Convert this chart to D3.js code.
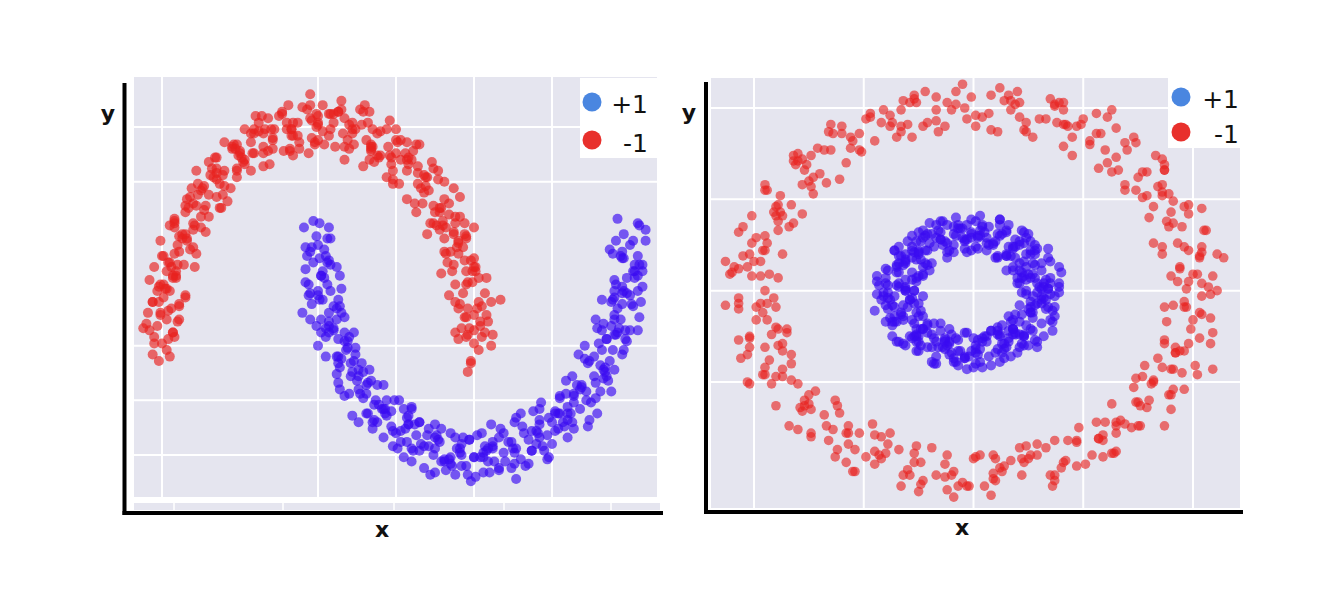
<!DOCTYPE html>
<html>
<head>
<meta charset="utf-8">
<script src="https://cdn.jsdelivr.net/npm/d3@7"></script>
<style>
  body { margin: 0; background: #fff; }
  svg { display: block; font-family: "DejaVu Sans", sans-serif; }
</style>
</head>
<body>
<div id="chart"></div>
<script>
// class -1, upper moon
var moonsRed = [
  [1.03,-.02],[.95,.04],[1.07,.06],[.98,-.07],[1.00,.01],[1.05,.04],[.92,.08],[1.02,.17],[.96,.05],[1.09,.11],
  [.97,.08],[1.03,.20],[.93,.24],[1.00,.14],[.96,.17],[1.03,.31],[.88,.20],[1.00,.36],[.95,.28],[1.05,.18],
  [.94,.39],[.87,.37],[.99,.34],[.90,.42],[.96,.29],[.90,.48],[.98,.39],[.86,.34],[.95,.49],[.81,.43],
  [.90,.47],[.82,.54],[.94,.56],[.85,.43],[.87,.51],[.87,.52],[.74,.56],[.84,.65],[.78,.53],[.91,.59],
  [.76,.55],[.81,.67],[.71,.71],[.78,.61],[.74,.64],[.77,.76],[.62,.65],[.74,.81],[.69,.73],[.79,.63],
  [.64,.82],[.57,.80],[.69,.77],[.60,.85],[.66,.72],[.56,.88],[.64,.79],[.52,.74],[.61,.89],[.47,.83],
  [.53,.85],[.45,.91],[.57,.93],[.48,.80],[.50,.88],[.47,.86],[.34,.90],[.44,.99],[.38,.87],[.51,.93],
  [.33,.85],[.38,.97],[.28,1.01],[.35,.91],[.31,.94],[.32,1.02],[.17,.91],[.29,1.07],[.24,.99],[.34,.89],
  [.17,1.04],[.10,1.02],[.22,.99],[.13,1.07],[.19,.94],[.08,1.06],[.16,.97],[.04,.92],[.13,1.07],[-.01,1.00],
  [.03,.98],[-.05,1.04],[.07,1.06],[-.02,.93],[.00,1.01],[-.04,.95],[-.17,.99],[-.07,1.08],[-.13,.96],[.00,1.02],
  [-.18,.90],[-.13,1.02],[-.23,1.06],[-.16,.96],[-.20,.99],[-.20,1.02],[-.35,.91],[-.23,1.07],[-.28,.99],[-.18,.89],
  [-.34,.99],[-.41,.97],[-.29,.94],[-.38,1.02],[-.32,.89],[-.43,.97],[-.35,.88],[-.47,.83],[-.38,.98],[-.52,.92],
  [-.47,.85],[-.55,.91],[-.43,.93],[-.52,.80],[-.50,.88],[-.52,.77],[-.65,.81],[-.55,.90],[-.61,.78],[-.48,.84],
  [-.65,.68],[-.60,.80],[-.70,.84],[-.63,.74],[-.67,.77],[-.65,.76],[-.80,.65],[-.68,.81],[-.73,.73],[-.63,.63],
  [-.77,.69],[-.84,.67],[-.72,.64],[-.81,.72],[-.75,.59],[-.83,.63],[-.75,.54],[-.87,.49],[-.78,.64],[-.92,.58],
  [-.84,.48],[-.92,.54],[-.80,.56],[-.89,.43],[-.87,.51],[-.86,.37],[-.99,.41],[-.89,.50],[-.95,.38],[-.82,.44],
  [-.95,.25],[-.90,.37],[-1.00,.41],[-.93,.31],[-.97,.34],[-.91,.31],[-1.06,.20],[-.94,.36],[-.99,.28],[-.89,.18],
  [-.99,.22],[-1.06,.20],[-.94,.17],[-1.03,.25],[-.97,.12],[-1.01,.15],[-.93,.06],[-1.05,.01],[-.96,.16],[-1.10,.10],
  [-.97,-.02],[-1.05,.04],[-.93,.06],[-1.02,-.07],[-1.00,.01],
  [.94,.13],[1.11,.00],[.98,-.08],[1.04,.09],[.88,.06],[1.07,.24],[1.00,.07],[.90,.03],[1.11,.20],[.95,.13],
  [1.04,.11],[.88,.28],[1.01,.34],[.91,.19],[1.08,.14],[.95,.34],[.90,.17],[1.08,.31],[.84,.23],[1.00,.40],
  [.89,.45],[1.01,.36],[.79,.33],[.94,.51],[.99,.29],[.81,.49],[.93,.45],[.88,.56],[1.00,.54],[.83,.38],
  [.78,.63],[.95,.50],[.82,.42],[.88,.59],[.72,.56],[.87,.72],[.80,.55],[.70,.51],[.91,.68],[.75,.61],
  [.80,.57],[.64,.74],[.77,.80],[.67,.65],[.84,.60],[.68,.78],[.63,.61],[.81,.75],[.57,.67],[.73,.84],
  [.58,.86],[.70,.77],[.48,.74],[.63,.92],[.68,.70],[.46,.87],[.58,.83],[.53,.94],[.65,.92],[.48,.76],
  [.40,.98],[.57,.85],[.44,.77],[.50,.94],[.34,.91],[.46,1.03],[.39,.86],[.29,.82],[.50,.99],[.34,.92],
  [.36,.84],[.20,1.01],[.33,1.07],[.23,.92],[.40,.87],[.22,1.02],[.17,.85],[.35,.99],[.11,.91],[.27,1.08],
  [.10,1.06],[.22,.97],[.00,.94],[.15,1.12],[.20,.90],[-.04,1.03],[.08,.99],[.03,1.10],[.15,1.08],[-.02,.92],
  [-.10,1.09],[.07,.96],[-.06,.88],[.00,1.05],[-.16,1.02],[-.05,1.10],[-.12,.93],[-.22,.89],[-.01,1.06],[-.17,.99],
  [-.16,.87],[-.32,1.04],[-.19,1.10],[-.29,.95],[-.12,.90],[-.30,.99],[-.35,.82],[-.17,.96],[-.41,.88],[-.25,1.05],
  [-.41,.99],[-.29,.90],[-.51,.87],[-.36,1.05],[-.31,.83],[-.54,.92],[-.42,.88],[-.47,.99],[-.35,.97],[-.52,.81],
  [-.60,.93],[-.43,.80],[-.56,.72],[-.50,.89],[-.66,.86],[-.53,.90],[-.60,.73],[-.70,.69],[-.49,.86],[-.65,.79],
  [-.62,.63],[-.78,.80],[-.65,.86],[-.75,.71],[-.58,.66],[-.74,.72],[-.79,.55],[-.61,.69],[-.85,.61],[-.69,.78],
  [-.82,.68],[-.70,.59],[-.92,.56],[-.77,.74],[-.72,.52],[-.92,.57],[-.80,.53],[-.85,.64],[-.73,.62],[-.90,.46],
  [-.95,.55],[-.78,.42],[-.91,.34],[-.85,.51],[-1.01,.48],[-.84,.49],[-.91,.32],[-1.01,.28],[-.80,.45],[-.96,.38],
  [-.89,.19],[-1.05,.36],[-.92,.42],[-1.02,.27],[-.85,.22],[-.98,.26],[-1.03,.09],[-.85,.23],[-1.09,.15],[-.93,.32],
  [-1.02,.20],[-.90,.11],[-1.12,.08],[-.97,.26],[-.92,.04],[-1.08,.07],[-.96,.03],[-1.01,.14],[-.89,.12],[-1.06,-.04],
  [.96,-.12],[1.17,.21],[-.79,.36],[-.05,1.15],[1.12,.05],[-.95,-.05],[-1.08,.30],[.30,1.10],[-.40,1.05]
];

// class +1, lower moon
var moonsBlue = [
  [.01,.40],[.07,.54],[-.08,.45],[-.03,.57],[.06,.49],[-.05,.43],[.08,.37],[.00,.46],[.03,.34],[.05,.41],
  [-.07,.41],[.04,.31],[.12,.36],[-.05,.24],[.07,.39],[.03,.21],[.00,.25],[.10,.18],[.06,.28],[-.06,.23],
  [.08,.25],[.02,.12],[.14,.18],[.05,.08],[.01,.21],[.10,.08],[.02,.06],[.15,.15],[.13,.03],[.07,.11],
  [.14,-.10],[.20,.04],[.05,-.05],[.10,.07],[.19,-.01],[.13,-.05],[.26,-.11],[.18,-.02],[.21,-.14],[.23,-.07],
  [.15,-.06],[.25,-.16],[.33,-.11],[.17,-.23],[.28,-.08],[.29,-.24],[.26,-.20],[.36,-.27],[.32,-.17],[.20,-.22],
  [.38,-.18],[.32,-.31],[.44,-.25],[.35,-.35],[.31,-.22],[.44,-.32],[.36,-.34],[.49,-.25],[.47,-.37],[.41,-.29],
  [.51,-.47],[.57,-.33],[.42,-.42],[.47,-.30],[.56,-.38],[.53,-.39],[.66,-.45],[.58,-.36],[.61,-.48],[.63,-.41],
  [.58,-.36],[.68,-.46],[.76,-.41],[.60,-.53],[.71,-.38],[.74,-.50],[.71,-.46],[.81,-.53],[.77,-.43],[.65,-.48],
  [.85,-.40],[.79,-.53],[.91,-.47],[.82,-.57],[.78,-.44],[.92,-.50],[.84,-.52],[.97,-.43],[.95,-.55],[.89,-.47],
  [1.01,-.60],[1.07,-.46],[.92,-.55],[.97,-.43],[1.06,-.51],[1.09,-.53],[1.06,-.49],[1.16,-.56],[1.12,-.46],[1.00,-.51],
  [1.19,-.40],[1.13,-.53],[1.25,-.47],[1.16,-.57],[1.12,-.44],[1.27,-.47],[1.19,-.49],[1.32,-.40],[1.30,-.52],[1.24,-.44],
  [1.35,-.54],[1.41,-.40],[1.26,-.49],[1.31,-.37],[1.40,-.45],[1.37,-.39],[1.50,-.45],[1.42,-.36],[1.45,-.48],[1.47,-.41],
  [1.42,-.29],[1.52,-.39],[1.60,-.34],[1.44,-.46],[1.55,-.31],[1.57,-.35],[1.54,-.31],[1.64,-.38],[1.60,-.28],[1.48,-.33],
  [1.66,-.18],[1.60,-.31],[1.72,-.25],[1.63,-.35],[1.59,-.22],[1.72,-.21],[1.64,-.23],[1.77,-.14],[1.75,-.26],[1.69,-.18],
  [1.78,-.24],[1.84,-.10],[1.69,-.19],[1.74,-.07],[1.83,-.15],[1.77,-.05],[1.90,-.11],[1.82,-.02],[1.85,-.14],[1.87,-.07],
  [1.79,.08],[1.89,-.02],[1.97,.03],[1.81,-.09],[1.92,.06],[1.91,.05],[1.88,.09],[1.98,.02],[1.94,.12],[1.82,.07],
  [1.96,.25],[1.90,.12],[2.02,.18],[1.93,.08],[1.89,.21],[1.98,.24],[1.90,.22],[2.03,.31],[2.01,.19],[1.95,.27],
  [2.00,.23],[2.06,.37],[1.91,.28],[1.96,.40],[2.05,.32],[1.95,.43],[2.08,.37],[2.00,.46],[2.03,.34],[2.05,.41],
  [1.92,.58],[2.02,.48],[2.10,.53],[1.94,.41],[2.05,.56],
  [.06,.38],[-.09,.54],[.01,.56],[-.04,.45],[.08,.49],[-.06,.28],[-.01,.50],[.14,.32],[-.08,.35],[.04,.44],
  [-.03,.38],[.13,.21],[-.08,.29],[.07,.15],[.02,.32],[-.05,.12],[.12,.17],[.02,.32],[.15,.26],[-.01,.09],
  [.12,.12],[-.04,.19],[.17,.02],[.07,.06],[.00,.23],[.23,.06],[.07,.09],[.13,-.08],[.00,.00],[.17,.13],
  [.22,-.12],[.05,.04],[.17,.06],[.12,-.05],[.24,-.01],[.14,-.20],[.19,.02],[.34,-.16],[.12,-.13],[.24,-.04],
  [.21,-.08],[.37,-.25],[.13,-.17],[.31,-.31],[.26,-.14],[.22,-.32],[.39,-.27],[.29,-.12],[.42,-.18],[.26,-.35],
  [.43,-.29],[.27,-.22],[.48,-.39],[.38,-.35],[.31,-.18],[.58,-.32],[.42,-.29],[.48,-.46],[.35,-.38],[.52,-.25],
  [.60,-.47],[.43,-.31],[.55,-.29],[.50,-.40],[.62,-.36],[.55,-.51],[.60,-.29],[.75,-.47],[.53,-.44],[.65,-.35],
  [.65,-.35],[.81,-.52],[.57,-.44],[.75,-.58],[.70,-.41],[.68,-.56],[.85,-.51],[.75,-.36],[.88,-.42],[.72,-.59],
  [.91,-.49],[.75,-.42],[.96,-.59],[.86,-.55],[.79,-.38],[1.08,-.48],[.92,-.45],[.98,-.62],[.85,-.54],[1.02,-.41],
  [1.10,-.58],[.93,-.42],[1.05,-.40],[1.00,-.51],[1.12,-.47],[1.06,-.58],[1.11,-.36],[1.26,-.54],[1.04,-.51],[1.16,-.42],
  [1.17,-.38],[1.33,-.55],[1.09,-.47],[1.27,-.61],[1.22,-.44],[1.20,-.53],[1.37,-.48],[1.27,-.33],[1.40,-.39],[1.24,-.56],
  [1.42,-.42],[1.26,-.35],[1.47,-.52],[1.37,-.48],[1.30,-.31],[1.58,-.37],[1.42,-.34],[1.48,-.51],[1.35,-.43],[1.52,-.30],
  [1.60,-.42],[1.43,-.26],[1.55,-.24],[1.50,-.35],[1.62,-.31],[1.54,-.38],[1.59,-.16],[1.74,-.34],[1.52,-.31],[1.64,-.22],
  [1.63,-.14],[1.79,-.31],[1.55,-.23],[1.73,-.37],[1.68,-.20],[1.64,-.26],[1.81,-.21],[1.71,-.06],[1.84,-.12],[1.68,-.29],
  [1.83,-.11],[1.67,-.04],[1.88,-.21],[1.78,-.17],[1.71,.00],[1.96,-.02],[1.80,.01],[1.86,-.16],[1.73,-.08],[1.90,.05],
  [1.95,-.04],[1.78,.12],[1.90,.14],[1.85,.03],[1.97,.07],[1.85,.03],[1.90,.25],[2.05,.07],[1.83,.10],[1.95,.19],
  [1.90,.30],[2.06,.13],[1.82,.21],[2.00,.07],[1.95,.24],[1.88,.20],[2.05,.25],[1.95,.40],[2.08,.34],[1.92,.17],
  [2.03,.37],[1.87,.44],[2.08,.27],[1.98,.31],[1.91,.48],[2.10,.48],[1.96,.51],[2.02,.34],[1.89,.42],[2.06,.55],
  [-.10,.15],[.88,-.59],[1.38,-.30],[2.07,.20],[.60,-.28]
];

// class -1, outer circle
var ringsOuter = [
  [1.04,-.03],[.93,.05],[1.09,.08],[.97,-.09],[1.00,.09],[1.07,.02],[.90,.08],[1.03,.19],
  [.94,.12],[1.11,.20],[.98,.05],[1.04,.21],[.89,.35],[.98,.22],[.93,.26],[1.05,.33],
  [.82,.26],[.98,.47],[.91,.37],[1.04,.24],[.91,.49],[.82,.46],[.98,.42],[.86,.52],
  [.90,.43],[.86,.58],[.96,.46],[.80,.40],[.87,.66],[.69,.58],[.86,.54],[.75,.62],
  [.86,.72],[.74,.55],[.77,.65],[.84,.57],[.61,.70],[.74,.81],[.66,.66],[.83,.74],
  [.63,.65],[.69,.81],[.56,.86],[.65,.73],[.53,.82],[.65,.89],[.45,.74],[.61,.95],
  [.47,.90],[.60,.77],[.50,.94],[.41,.91],[.49,.91],[.37,1.01],[.45,.84],[.41,.99],
  [.43,.90],[.27,.84],[.39,1.03],[.21,.95],[.30,.94],[.19,1.02],[.35,1.05],[.23,.88],
  [.17,.99],[.24,.92],[.07,.97],[.20,1.09],[.04,.95],[.21,1.03],[.08,.88],[.14,1.04],
  [-.08,1.09],[.01,.96],[-.04,1.00],[.08,1.07],[-.21,.92],[-.05,1.13],[-.12,1.03],[.01,.90],
  [-.17,1.06],[-.26,1.03],[-.10,.99],[-.22,1.09],[-.23,.90],[-.27,1.05],[-.17,.93],[-.33,.87],
  [-.29,1.03],[-.47,.95],[-.30,.91],[-.41,.99],[-.33,.99],[-.45,.82],[-.42,.92],[-.35,.84],
  [-.60,.86],[-.47,.97],[-.55,.82],[-.38,.90],[-.58,.70],[-.52,.86],[-.65,.91],[-.56,.78],
  [-.68,.77],[-.56,.84],[-.76,.69],[-.60,.90],[-.74,.74],[-.61,.61],[-.71,.78],[-.80,.75],
  [-.70,.64],[-.82,.74],[-.74,.57],[-.78,.72],[-.73,.53],[-.89,.47],[-.77,.66],[-.95,.58],
  [-.83,.47],[-.94,.55],[-.78,.58],[-.90,.41],[-.91,.43],[-.84,.35],[-1.01,.41],[-.88,.52],
  [-.99,.29],[-.82,.37],[-.95,.22],[-.89,.38],[-1.05,.35],[-.96,.22],[-1.01,.26],[-.89,.33],
  [-1.11,.09],[-.95,.30],[-1.02,.20],[-.89,.07],[-1.00,.16],[-1.09,.13],[-.93,.09],[-1.05,.19],
  [-.97,-.07],[-1.01,.08],[-.91,-.04],[-1.07,-.10],[-.95,.00],[-1.13,-.08],[-.96,-.12],[-1.07,-.04],
  [-.90,-.09],[-1.02,-.26],[-.99,-.16],[-.92,-.24],[-1.07,-.27],[-.94,-.16],[-1.02,-.31],[-.85,-.23],
  [-.95,-.46],[-.89,-.30],[-1.02,-.25],[-.93,-.38],[-.95,-.42],[-.83,-.35],[-1.03,-.50],[-.87,-.29],
  [-.90,-.47],[-.77,-.60],[-.87,-.43],[-.96,-.46],[-.75,-.57],[-.87,-.47],[-.79,-.64],[-.83,-.49],
  [-.68,-.68],[-.84,-.74],[-.72,-.55],[-.90,-.63],[-.67,-.74],[-.78,-.66],[-.62,-.63],[-.74,-.80],
  [-.64,-.76],[-.57,-.84],[-.74,-.78],[-.61,-.67],[-.62,-.87],[-.45,-.79],[-.58,-.94],[-.52,-.78],
  [-.58,-.78],[-.49,-.91],[-.54,-.87],[-.42,-.80],[-.54,-.99],[-.38,-.78],[-.45,-.88],[-.32,-1.01],
  [-.34,-.87],[-.43,-.90],[-.27,-.94],[-.39,-.84],[-.23,-1.04],[-.27,-.89],[-.17,-1.01],[-.33,-1.07],
  [-.12,-.90],[-.30,-.98],[-.13,-1.02],[-.24,-.94],[.00,-.92],[-.12,-1.09],[-.09,-.99],[-.02,-1.07],
  [-.10,-1.01],[.03,-.90],[-.05,-1.05],[.12,-.97],[.08,-1.12],[.14,-.96],[.01,-.91],[.10,-1.04],
  [.13,-.99],[.25,-.92],[.05,-1.07],[.21,-.86],[.23,-.94],[.36,-1.07],[.26,-.90],[.17,-.93],
  [.41,-.94],[.29,-.84],[.37,-1.01],[.33,-.86],[.51,-.95],[.35,-1.01],[.47,-.82],[.29,-.90],
  [.54,-.90],[.43,-.82],[.59,-.79],[.47,-.96],[.57,-.81],[.64,-.89],[.47,-.83],[.60,-.72],
  [.59,-.82],[.76,-.74],[.63,-.89],[.69,-.73],[.63,-.62],[.72,-.75],[.67,-.71],[.79,-.64],
  [.65,-.72],[.81,-.51],[.74,-.61],[.87,-.74],[.82,-.50],[.73,-.53],[.89,-.57],[.77,-.47],
  [.90,-.57],[.86,-.42],[.96,-.54],[.80,-.60],[.96,-.33],[.78,-.41],[.95,-.45],[.84,-.37],
  [1.03,-.26],[.91,-.43],[.94,-.33],[1.01,-.41],[.87,-.27],[1.00,-.16],[.92,-.31],[1.09,-.23],
  [.98,-.29],[1.04,-.13],[.91,-.08],[.99,-.21],[.96,-.09],[1.08,-.02],[.88,-.17],[1.04,.04],
  [.94,.13],[1.11,.00],[.97,.01],[1.03,.18],[.86,.24],[1.06,.33],[.96,.24],[.86,.20],
  [1.04,.45],[.88,.38],[.95,.35],[.79,.52],[.87,.66],[.77,.51],[.89,.53],[.79,.65],
  [.69,.55],[.87,.69],[.57,.67],[.73,.84],[.58,.86],[.70,.77],[.41,.79],[.56,.97],
  [.53,.80],[.38,.92],[.42,.91],[.37,1.02],[.41,1.03],[.24,.87],[.16,1.07],[.33,.94],
  [.11,.87],[.17,1.04],[-.08,1.02],[.12,1.11],[-.03,.94],[-.13,.90],[-.01,1.06],[-.17,.99],
  [-.16,.87],[-.32,1.04],[-.27,1.07],[-.37,.92],[-.28,.84],[-.38,.96],[-.51,.76],[-.33,.90],
  [-.65,.77],[-.49,.94],[-.64,.86],[-.52,.77],[-.81,.69],[-.66,.87],[-.67,.59],[-.82,.71],
  [-.75,.60],[-.80,.71],[-.73,.62],[-.90,.46],[-.95,.55],[-.78,.42],[-.94,.26],[-.88,.43],
  [-1.07,.32],[-.87,.41],[-.97,.16],[-1.07,.12],[-.87,.20],[-1.03,.13],[-.94,-.07],[-1.10,.10],
  [-.97,.08],[-1.07,-.07],[-.89,-.21],[-.99,-.09],[-1.03,-.35],[-.85,-.21],[-1.06,-.37],[-.90,-.20],
  [-.95,-.31],[-.83,-.40],[-1.02,-.51],[-.87,-.33],[-.77,-.63],[-.92,-.51],[-.75,-.62],[-.80,-.51],
  [-.63,-.60],[-.80,-.76],[-.74,-.65],[-.57,-.78],[-.63,-.91],[-.57,-.74],[-.66,-.82],[-.46,-.73],
  [-.45,-.95],[-.55,-.99],[-.26,-.85],[-.42,-.92],[-.24,-1.06],[-.40,-.89],[-.19,-.86],[-.29,-1.01],
  [-.03,-1.07],[-.13,-.95],[-.09,-1.13],[.09,-1.00],[-.07,-1.07],[.09,-.90],[.10,-.92],[.22,-1.01],
  [.09,-1.03],[.24,-.85],[.37,-1.04],[.22,-.92],[.42,-.93],[.37,-.82],[.57,-.81],[.40,-.97],
  [.48,-.75],[.65,-.88],[.59,-.91],[.65,-.74],[.56,-.72],[.76,-.63],[.75,-.74],[.65,-.78],
  [.91,-.54],[.75,-.61],[.90,-.65],[.74,-.48],[.92,-.34],[.82,-.49],[1.02,-.46],[.92,-.34],
  [.90,-.43],[1.08,-.29],[.87,-.29],[1.03,-.12],[.96,-.06],[1.08,-.15],[.87,-.09],[1.02,.09],
  [1.14,.18],[-1.13,.16],[1.09,-.43],[.63,.99],[-.25,-1.10]
];

// class +1, inner circle
var ringsInner = [
  [.32,.02],[.26,-.06],[.24,.06],[.37,-.03],[.29,-.01],[.35,.04],[.31,-.03],[.22,.07],[.34,.01],[.28,.14],
  [.39,.04],[.27,.09],[.21,.04],[.31,.11],[.28,.07],[.23,.16],[.34,.01],[.18,.13],[.24,.13],[.34,.23],
  [.21,.15],[.23,.08],[.26,.20],[.18,.11],[.28,.22],[.17,.19],[.26,.27],[.31,.15],[.16,.24],[.22,.10],
  [.21,.27],[.15,.19],[.13,.31],[.26,.22],[.18,.24],[.24,.29],[.15,.19],[.06,.29],[.18,.23],[.12,.36],
  [.23,.26],[.11,.31],[.02,.23],[.12,.30],[.09,.26],[.04,.35],[.15,.20],[-.01,.32],[.02,.29],[.12,.39],
  [-.01,.31],[.01,.24],[.04,.36],[-.04,.27],[.03,.33],[-.08,.30],[.01,.38],[.06,.26],[-.09,.35],[-.03,.21],
  [-.06,.34],[-.12,.26],[-.14,.38],[-.01,.29],[-.09,.31],[-.03,.36],[-.12,.21],[-.21,.31],[-.09,.25],[-.15,.38],
  [-.04,.28],[-.16,.33],[-.25,.21],[-.15,.28],[-.18,.24],[-.23,.33],[-.12,.18],[-.28,.30],[-.25,.22],[-.15,.32],
  [-.28,.24],[-.26,.17],[-.23,.29],[-.31,.20],[-.22,.22],[-.33,.19],[-.24,.27],[-.19,.15],[-.34,.24],[-.28,.10],
  [-.28,.18],[-.34,.10],[-.36,.22],[-.23,.13],[-.31,.15],[-.25,.20],[-.31,.02],[-.40,.12],[-.28,.06],[-.34,.19],
  [-.23,.09],[-.35,.14],[-.41,-.01],[-.31,.06],[-.34,.02],[-.39,.11],[-.28,-.04],[-.44,.08],[-.36,-.03],[-.26,.07],
  [-.39,-.01],[-.37,-.08],[-.34,.04],[-.42,-.05],[-.29,-.05],[-.40,-.08],[-.31,.00],[-.26,-.12],[-.41,-.03],[-.35,-.17],
  [-.30,-.09],[-.36,-.17],[-.38,-.05],[-.25,-.14],[-.33,-.12],[-.27,-.07],[-.29,-.25],[-.38,-.15],[-.26,-.21],[-.32,-.08],
  [-.21,-.18],[-.33,-.13],[-.34,-.28],[-.24,-.21],[-.27,-.25],[-.32,-.16],[-.21,-.31],[-.37,-.19],[-.25,-.28],[-.15,-.18],
  [-.28,-.26],[-.26,-.33],[-.23,-.21],[-.31,-.30],[-.13,-.27],[-.24,-.30],[-.15,-.22],[-.10,-.34],[-.25,-.25],[-.19,-.39],
  [-.11,-.28],[-.17,-.36],[-.19,-.24],[-.06,-.33],[-.14,-.31],[-.08,-.26],[-.07,-.41],[-.16,-.31],[-.04,-.37],[-.10,-.24],
  [.01,-.34],[-.11,-.29],[-.09,-.39],[.01,-.32],[-.02,-.36],[-.07,-.27],[.04,-.42],[-.12,-.30],[.02,-.35],[.12,-.25],
  [-.01,-.33],[.01,-.40],[.04,-.28],[-.04,-.37],[.14,-.29],[.03,-.32],[.12,-.24],[.17,-.36],[.02,-.27],[.08,-.41],
  [.16,-.26],[.10,-.34],[.08,-.22],[.21,-.31],[.13,-.29],[.19,-.24],[.20,-.34],[.11,-.24],[.23,-.30],[.17,-.17],
  [.28,-.27],[.16,-.22],[.16,-.28],[.26,-.21],[.23,-.25],[.18,-.16],[.29,-.31],[.13,-.19],[.24,-.19],[.34,-.09],
  [.21,-.17],[.23,-.24],[.26,-.12],[.18,-.21],[.33,-.10],[.22,-.13],[.31,-.05],[.36,-.17],[.21,-.08],[.27,-.22],
  [.32,-.04],[.26,-.12],[.24,.00],[.37,-.09],[.29,-.07],[.35,-.02],
  [.25,.09],[.39,-.01],[.28,-.08],[.33,.06],[.20,.04],[.35,.16],[.30,.02],[.22,-.01],[.39,.13],[.26,.07],
  [.32,.04],[.19,.18],[.29,.23],[.21,.11],[.35,.07],[.24,.20],[.20,.07],[.34,.18],[.15,.11],[.28,.25],
  [.19,.28],[.28,.20],[.11,.18],[.23,.32],[.27,.15],[.10,.27],[.19,.24],[.15,.33],[.25,.31],[.11,.19],
  [.07,.35],[.21,.25],[.10,.18],[.15,.32],[.02,.30],[.12,.39],[.07,.25],[-.01,.22],[.16,.36],[.03,.30],
  [.06,.22],[-.07,.36],[.03,.41],[-.05,.29],[.09,.25],[-.05,.34],[-.09,.21],[.05,.32],[-.14,.25],[-.01,.39],
  [-.12,.36],[-.03,.28],[-.20,.26],[-.08,.40],[-.04,.23],[-.22,.30],[-.13,.27],[-.17,.36],[-.07,.34],[-.21,.22],
  [-.25,.32],[-.11,.22],[-.22,.15],[-.17,.29],[-.30,.27],[-.19,.31],[-.24,.17],[-.32,.14],[-.15,.28],[-.28,.22],
  [-.23,.08],[-.36,.22],[-.26,.27],[-.34,.15],[-.20,.11],[-.31,.16],[-.35,.03],[-.21,.14],[-.40,.07],[-.27,.21],
  [-.35,.13],[-.26,.05],[-.43,.03],[-.31,.17],[-.27,.00],[-.40,.04],[-.31,.01],[-.35,.10],[-.25,.08],[-.39,-.04],
  [-.39,.03],[-.25,-.07],[-.36,-.14],[-.31,.00],[-.44,-.02],[-.27,.00],[-.32,-.14],[-.40,-.17],[-.23,-.03],[-.36,-.09],
  [-.26,-.24],[-.39,-.10],[-.29,-.05],[-.37,-.17],[-.23,-.21],[-.28,-.16],[-.32,-.29],[-.18,-.18],[-.37,-.25],[-.24,-.11],
  [-.27,-.18],[-.18,-.26],[-.35,-.28],[-.23,-.14],[-.19,-.31],[-.26,-.25],[-.17,-.28],[-.21,-.19],[-.11,-.21],[-.25,-.33],
  [-.21,-.23],[-.07,-.33],[-.18,-.40],[-.13,-.26],[-.26,-.28],[-.04,-.23],[-.09,-.37],[-.17,-.40],[.00,-.26],[-.13,-.32],
  [.00,-.42],[-.13,-.28],[-.03,-.23],[-.11,-.35],[.03,-.39],[.01,-.30],[-.03,-.43],[.11,-.32],[-.08,-.39],[.05,-.25],
  [.04,-.26],[.13,-.34],[-.04,-.36],[.08,-.22],[.12,-.39],[.06,-.28],[.15,-.31],[.11,-.22],[.21,-.24],[.07,-.36],
  [.11,-.20],[.25,-.30],[.14,-.37],[.19,-.23],[.06,-.25],[.27,-.15],[.22,-.29],[.14,-.32],[.31,-.18],[.18,-.24],
  [.29,-.28],[.16,-.14],[.26,-.09],[.18,-.21],[.32,-.25],[.27,-.12],[.23,-.25],[.37,-.14],[.18,-.21],[.31,-.07],
  [.27,-.03],[.36,-.11],[.19,-.13],[.31,.01],[.35,-.16],[.24,-.02],[.33,-.05],[.29,.04],[.39,.02],[.25,-.10],
  [-.45,-.11],[.36,-.22],[.40,.10],[-.20,.37],[.22,.33],[-.44,.05]
];

var moonsGridX = [-1, 0, 0.5, 1, 1.5],
    moonsGridY = [-0.5, -0.25, 0, 0.75, 1],
    ringsGridX = [-1, -0.5, 0, 0.5, 1],
    ringsGridY = [-0.5, 0, 0.5, 1];

var classLabels = ["+1", "-1"];

(function() {
  var width = 1336,
      height = 594,
      bgColor = "#e5e5ef",
      pointBlue = "#3a0af2",
      pointRed = "#e8221e",
      legendColors = ["#4a86e0", "#e8302c"];

  var svg = d3.select("#chart").append("svg")
      .attr("width", width)
      .attr("height", height);

  var panels = [
    {
      name: "moons",
      plot: { left: 134, top: 77, right: 657, bottom: 497 },
      x: d3.scaleLinear().domain([-1, 1.5]).range([162, 552]),
      y: d3.scaleLinear().domain([-0.5, 1]).range([455, 127]),
      gridX: moonsGridX,
      gridY: moonsGridY,
      series: [
        { points: moonsBlue, color: pointBlue, r: 5, opacity: 0.66 },
        { points: moonsRed, color: pointRed, r: 5, opacity: 0.66 }
      ],
      axis: { x: 124.5, y: 513, top: 83, right: 663 },
      strip: { top: 503, bottom: 510, right: 660, marks: [174, 283, 394, 504, 611] },
      yLabel: [108, 121],
      xLabel: [382, 537],
      legend: { left: 580, top: 78, right: 657, bottom: 158, dotX: 592, rows: [102, 140], textX: 648, baselines: [113, 152] }
    },
    {
      name: "rings",
      plot: { left: 711, top: 78, right: 1240, bottom: 508 },
      x: d3.scaleLinear().domain([-1, 1]).range([754, 1193]),
      y: d3.scaleLinear().domain([-0.5, 1]).range([382, 108]),
      gridX: ringsGridX,
      gridY: ringsGridY,
      series: [
        { points: ringsInner, color: pointBlue, r: 5, opacity: 0.66 },
        { points: ringsOuter, color: pointRed, r: 4.8, opacity: 0.62 }
      ],
      axis: { x: 706, y: 512, top: 82, right: 1243 },
      strip: null,
      yLabel: [689, 120],
      xLabel: [962, 535],
      legend: { left: 1168, top: 75, right: 1247, bottom: 148, dotX: 1181, rows: [97, 132], textX: 1239, baselines: [108, 143] }
    }
  ];

  panels.forEach(function(p) {
    var g = svg.append("g")
        .attr("class", "panel panel-" + p.name);

    g.append("rect")
        .attr("x", p.plot.left)
        .attr("y", p.plot.top)
        .attr("width", p.plot.right - p.plot.left)
        .attr("height", p.plot.bottom - p.plot.top)
        .attr("fill", bgColor);

    // leftover strip under the moons plot
    if (p.strip) {
      g.append("rect")
          .attr("x", p.plot.left)
          .attr("y", p.strip.top)
          .attr("width", p.strip.right - p.plot.left)
          .attr("height", p.strip.bottom - p.strip.top)
          .attr("fill", bgColor);
      g.selectAll(".strip-mark")
        .data(p.strip.marks)
        .join("line")
          .attr("class", "strip-mark")
          .attr("x1", d => d)
          .attr("x2", d => d)
          .attr("y1", p.strip.top)
          .attr("y2", p.strip.bottom)
          .attr("stroke", "#fff")
          .attr("stroke-width", 1.5);
    }

    g.selectAll(".grid-x")
      .data(p.gridX)
      .join("line")
        .attr("class", "grid-x")
        .attr("x1", d => p.x(d))
        .attr("x2", d => p.x(d))
        .attr("y1", p.plot.top)
        .attr("y2", p.plot.bottom)
        .attr("stroke", "#fff")
        .attr("stroke-width", 2);

    g.selectAll(".grid-y")
      .data(p.gridY)
      .join("line")
        .attr("class", "grid-y")
        .attr("x1", p.plot.left)
        .attr("x2", p.plot.right)
        .attr("y1", d => p.y(d))
        .attr("y2", d => p.y(d))
        .attr("stroke", "#fff")
        .attr("stroke-width", 2);

    p.series.forEach(function(s) {
      g.append("g")
        .selectAll("circle")
        .data(s.points)
        .join("circle")
          .attr("cx", d => p.x(d[0]))
          .attr("cy", d => p.y(d[1]))
          .attr("r", s.r)
          .attr("fill", s.color)
          .attr("fill-opacity", s.opacity);
    });

    var lg = g.append("g")
        .attr("class", "legend");

    lg.append("rect")
        .attr("x", p.legend.left)
        .attr("y", p.legend.top)
        .attr("width", p.legend.right - p.legend.left)
        .attr("height", p.legend.bottom - p.legend.top)
        .attr("fill", "#fff");

    lg.selectAll("circle")
      .data(classLabels)
      .join("circle")
        .attr("cx", p.legend.dotX)
        .attr("cy", (d, i) => p.legend.rows[i])
        .attr("r", 9.5)
        .attr("fill", (d, i) => legendColors[i]);

    lg.selectAll("text")
      .data(classLabels)
      .join("text")
        .attr("x", p.legend.textX)
        .attr("y", (d, i) => p.legend.baselines[i])
        .attr("text-anchor", "end")
        .attr("font-size", "25px")
        .attr("fill", "#111")
        .text(d => d);

    // plain black axis lines, no ticks
    g.append("line")
        .attr("x1", p.axis.x)
        .attr("x2", p.axis.x)
        .attr("y1", p.axis.top)
        .attr("y2", p.axis.y + 2)
        .attr("stroke", "#000")
        .attr("stroke-width", 4);

    g.append("line")
        .attr("x1", p.axis.x - 2)
        .attr("x2", p.axis.right)
        .attr("y1", p.axis.y)
        .attr("y2", p.axis.y)
        .attr("stroke", "#000")
        .attr("stroke-width", 4);

    g.append("text")
        .attr("x", p.yLabel[0])
        .attr("y", p.yLabel[1])
        .attr("text-anchor", "middle")
        .attr("font-size", "22px")
        .attr("font-weight", "bold")
        .attr("fill", "#111")
        .text("y");

    g.append("text")
        .attr("x", p.xLabel[0])
        .attr("y", p.xLabel[1])
        .attr("text-anchor", "middle")
        .attr("font-size", "22px")
        .attr("font-weight", "bold")
        .attr("fill", "#111")
        .text("x");
  });
})();
</script>
</body>
</html>
